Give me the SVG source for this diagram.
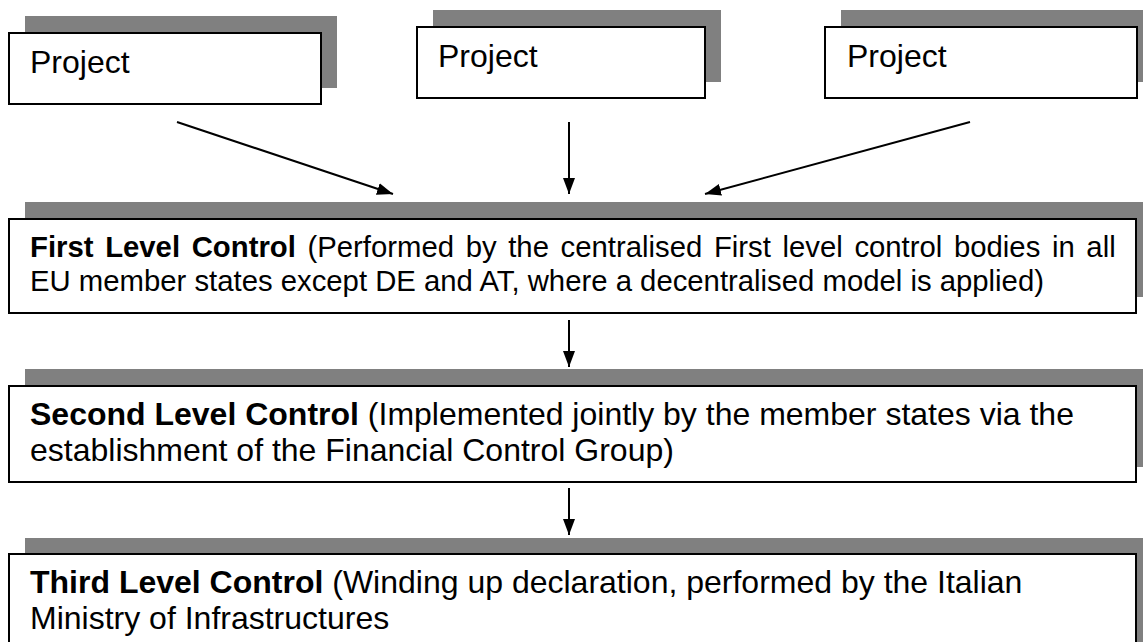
<svg xmlns="http://www.w3.org/2000/svg" width="1143" height="642" viewBox="0 0 1143 642">
<style>
.bg{fill:#ffffff}
.sh{fill:#808080}
.bx{fill:#ffffff;stroke:#000000;stroke-width:2}
.t{font-family:"Liberation Sans",Arial,sans-serif;font-size:32px;fill:#000000}
.s{font-size:29.3px}
.b{font-weight:bold}
.c{stroke:#000000;stroke-width:2;fill:none}
</style>
<defs>
<marker id="ah" viewBox="0 0 16 12" refX="16" refY="6" markerWidth="16" markerHeight="12" markerUnits="userSpaceOnUse" orient="auto">
<path d="M0,0 L16,6 L0,12 z" fill="#000000"/>
</marker>
</defs>
<rect class="bg" x="0" y="0" width="1143" height="642"/>
<g id="project1">
<rect class="sh" x="25" y="16" width="312" height="72"/>
<rect class="bx" x="9" y="33" width="312" height="71"/>
<text class="t" x="30" y="73">Project</text>
</g>
<g id="project2">
<rect class="sh" x="433" y="10" width="288" height="72"/>
<rect class="bx" x="417" y="27" width="288" height="71"/>
<text class="t" x="438" y="67">Project</text>
</g>
<g id="project3">
<rect class="sh" x="841" y="10" width="312" height="72"/>
<rect class="bx" x="825" y="27" width="312" height="71"/>
<text class="t" x="847" y="67">Project</text>
</g>
<g id="first-level">
<rect class="sh" x="25" y="202" width="1128" height="95"/>
<rect class="bx" x="9" y="219" width="1127" height="94"/>
<text class="t s" x="30" y="257" word-spacing="3.5"><tspan class="b">First Level Control</tspan> (Performed by the centralised First level control bodies in all</text>
<text class="t s" x="30" y="291">EU member states except DE and AT, where a decentralised model is applied)</text>
</g>
<g id="second-level">
<rect class="sh" x="25" y="369" width="1128" height="98"/>
<rect class="bx" x="9" y="386" width="1127" height="96"/>
<text class="t" x="30" y="425"><tspan class="b">Second Level Control</tspan> (Implemented jointly by the member states via the</text>
<text class="t" x="30" y="461">establishment of the Financial Control Group)</text>
</g>
<g id="third-level">
<rect class="sh" x="25" y="538" width="1128" height="110"/>
<rect class="bx" x="9" y="554" width="1127" height="100"/>
<text class="t" x="30" y="593"><tspan class="b">Third Level Control</tspan> (Winding up declaration, performed by the Italian</text>
<text class="t" x="30" y="629">Ministry of Infrastructures</text>
</g>
<g id="connectors">
<line class="c" x1="177" y1="122" x2="393" y2="194" marker-end="url(#ah)"/>
<line class="c" x1="569" y1="122" x2="569" y2="194" marker-end="url(#ah)"/>
<line class="c" x1="970" y1="122" x2="705" y2="194" marker-end="url(#ah)"/>
<line class="c" x1="569" y1="320" x2="569" y2="367" marker-end="url(#ah)"/>
<line class="c" x1="569" y1="488" x2="569" y2="535" marker-end="url(#ah)"/>
</g>
</svg>
